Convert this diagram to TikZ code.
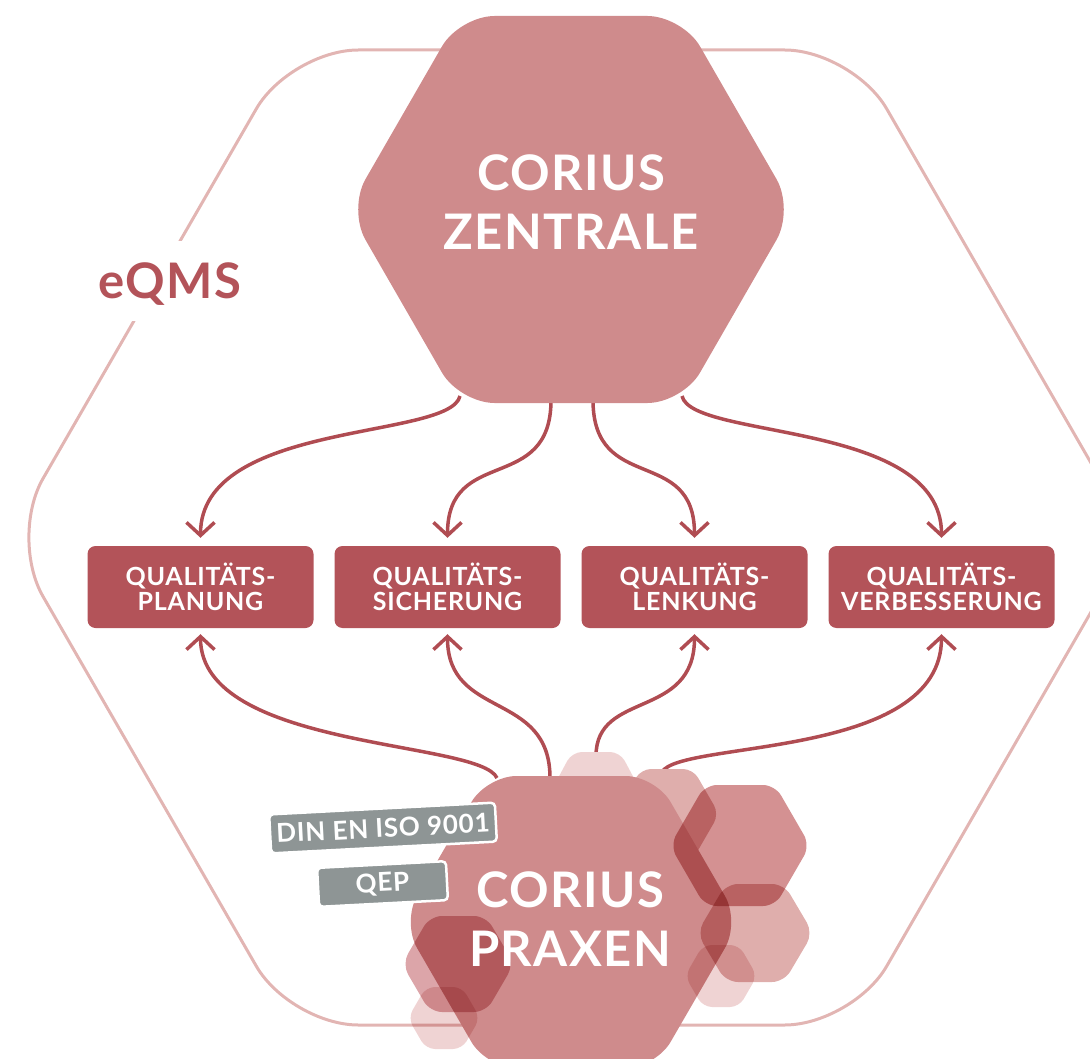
\documentclass[tikz,border=0pt]{standalone}
\usepackage{fontspec}
\setmainfont{Lato}[LetterSpace=3]
\usetikzlibrary{arrows.meta}

\definecolor{rose}{HTML}{CF8B8C}
\definecolor{wine}{HTML}{B35359}
\definecolor{arrowred}{HTML}{B04C52}
\definecolor{framecol}{HTML}{E2B5B3}
\definecolor{slate}{HTML}{8E9595}
\definecolor{blushA}{HTML}{EFD3D3}
\definecolor{blushB}{HTML}{DFAEAC}
\definecolor{blushC}{HTML}{D49192}
\definecolor{blushF}{HTML}{DCA5A9}

% flat-top hexagon: [options]{cx}{cy}{half width R}{half height}
\newcommand{\hexagonpath}[5][]{%
  \path[#1] (#2,{#3-#5}) -- ({#2+#4/2},{#3-#5}) -- ({#2+#4},#3)
    -- ({#2+#4/2},{#3+#5}) -- ({#2-#4/2},{#3+#5}) -- ({#2-#4},#3)
    -- ({#2-#4/2},{#3-#5}) -- cycle;}

\tikzset{
  qbox/.style={fill=wine, rounded corners=8pt, minimum width=226pt,
    minimum height=82pt, text=white, align=center, inner sep=0pt,
    font=\bfseries\fontsize{25}{25}\selectfont},
  graytag/.style={fill=slate, draw=white, line width=2.5pt, rounded corners=4pt,
    text=white, minimum height=39pt, inner sep=0pt,
    font=\bfseries\fontsize{26}{26}\selectfont},
  bigtext/.style={text=white, align=center, inner sep=0pt,
    font=\bfseries\fontsize{49}{59}\selectfont},
  flow/.style={draw=arrowred, line width=3.5pt,
    -{Straight Barb[length=13pt,width=28pt]}},
  flowdown/.style={flow, shorten >=8pt},
  flowup/.style={flow, shorten >=6pt},
  tint/.style={blend mode=multiply, rounded corners=12pt},
}

\begin{document}
\begin{tikzpicture}[x=1pt, y=-1pt]
\useasboundingbox (0,0) rectangle (1090,1059);

% outer frame of the eQMS
\hexagonpath[draw=framecol, line width=3pt, rounded corners=68pt]{571.5}{537.5}{562.5}{487.5}
\node[font=\bfseries\fontsize{49}{49}\selectfont, text=wine, fill=white,
  text height=35pt, text depth=0pt, minimum height=80pt, inner xsep=4pt]
  (eqms) at (170,281.5) {eQMS};

% quality boxes
\node[qbox] (q1) at (200.5,587) {QUALITÄTS-\\PLANUNG};
\node[qbox] (q2) at (447.5,587) {QUALITÄTS-\\SICHERUNG};
\node[qbox] (q3) at (694.5,587) {QUALITÄTS-\\LENKUNG};
\node[qbox] (q4) at (941.5,587) {QUALITÄTS-\\VERBESSERUNG};

% connector start points on the hexagons
\coordinate (zs1) at (460,396);
\coordinate (zs2) at (551,400);
\coordinate (zs3) at (593,400);
\coordinate (zs4) at (682,396);
\coordinate (ps1) at (497,778);
\coordinate (ps2) at (550,778);
\coordinate (ps3) at (596,756);
\coordinate (ps4) at (662,772);

% connectors from the head office
\draw[flowdown] (zs1) .. controls (450,440) and (200.5,420) .. (q1.north);
\draw[flowdown] (zs2) .. controls (551,495) and (447.5,445) .. (q2.north);
\draw[flowdown] (zs3) .. controls (593,495) and (694.5,445) .. (q3.north);
\draw[flowdown] (zs4) .. controls (692,440) and (941.5,420) .. (q4.north);

% connectors from the practices
\draw[flowup] (ps1) .. controls (480,740) and (200.5,750) .. (q1.south);
\draw[flowup] (ps2) .. controls (550,690) and (447.5,720) .. (q2.south);
\draw[flowup] (ps3) .. controls (596,690) and (694.5,720) .. (q3.south);
\draw[flowup] (ps4) .. controls (680,740) and (941.5,760) .. (q4.south);

% head office
\hexagonpath[fill=rose, rounded corners=35pt]{571}{209.5}{223}{193.5}
\node[bigtext] (zen) at (571,202.5) {CORIUS\\ZENTRALE};

% practices cluster
\hexagonpath[fill=blushA, rounded corners=10pt]{596}{797}{48}{45}
\hexagonpath[fill=blushB, rounded corners=10pt]{667}{814}{52}{45}
\hexagonpath[fill=rose, rounded corners=30pt]{571}{922}{169}{146}
\hexagonpath[tint, fill=blushC]{740}{845.5}{70}{60.5}
\hexagonpath[tint, fill=blushB]{755}{933}{58}{49}
\hexagonpath[tint, fill=blushA, rounded corners=9pt]{721}{976}{36}{31}
\hexagonpath[tint, fill=blushF]{458}{964}{56}{48}
\hexagonpath[tint, fill=blushA, rounded corners=9pt]{444}{1018}{36}{31}

% certification tags
\node[graytag, rotate=3, minimum width=226pt] (din) at (383,828) {DIN EN ISO 9001};
\node[graytag, rotate=3, minimum width=129pt] (qep) at (382.5,884) {QEP};

\node[bigtext] (prax) at (570,919) {CORIUS\\PRAXEN};
\end{tikzpicture}
\end{document}
